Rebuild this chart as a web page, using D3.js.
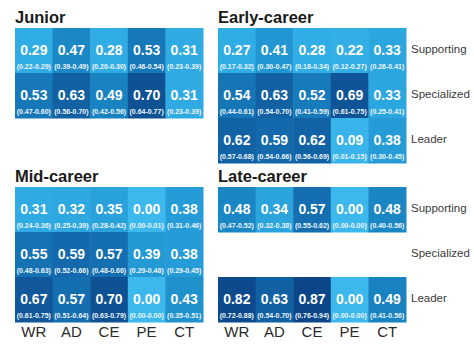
<!DOCTYPE html>
<html>
<head>
<meta charset="utf-8">
<script src="https://cdn.jsdelivr.net/npm/d3@7"></script>
<style>
  body { margin: 0; background: #fff; }
  svg { font-family: "Liberation Sans", Arial, sans-serif; }
</style>
</head>
<body>
<div class="container"></div>
<script>
// chart size
const width = 474;
const height = 351;

// categories
const columns = ["WR", "AD", "CE", "PE", "CT"];
const roles = ["Supporting", "Specialized", "Leader"];
const stages = ["Junior", "Early-career", "Mid-career", "Late-career"];

// values per stage, one row per role (null = role missing)
const juniorVals = [[0.29, 0.47, 0.28, 0.53, 0.31], [0.53, 0.63, 0.49, 0.70, 0.31], null];
const juniorCI = [
  ["0.22-0.29", "0.39-0.49", "0.20-0.30", "0.46-0.54", "0.23-0.39"],
  ["0.47-0.60", "0.56-0.70", "0.42-0.56", "0.64-0.77", "0.23-0.39"], null];
const earlyVals = [[0.27, 0.41, 0.28, 0.22, 0.33], [0.54, 0.63, 0.52, 0.69, 0.33], [0.62, 0.59, 0.62, 0.09, 0.38]];
const earlyCI = [
  ["0.17-0.32", "0.30-0.47", "0.18-0.34", "0.12-0.27", "0.26-0.41"],
  ["0.44-0.61", "0.54-0.70", "0.41-0.59", "0.61-0.75", "0.25-0.41"],
  ["0.57-0.68", "0.54-0.66", "0.56-0.69", "0.01-0.15", "0.30-0.45"]];
const midVals = [[0.31, 0.32, 0.35, 0.00, 0.38], [0.55, 0.59, 0.57, 0.39, 0.38], [0.67, 0.57, 0.70, 0.00, 0.43]];
const midCI = [
  ["0.24-0.36", "0.25-0.39", "0.28-0.42", "0.00-0.01", "0.31-0.46"],
  ["0.48-0.63", "0.52-0.66", "0.48-0.66", "0.29-0.48", "0.29-0.45"],
  ["0.61-0.75", "0.51-0.64", "0.63-0.79", "0.00-0.00", "0.35-0.51"]];
const lateVals = [[0.48, 0.34, 0.57, 0.00, 0.48], null, [0.82, 0.63, 0.87, 0.00, 0.49]];
const lateCI = [
  ["0.47-0.52", "0.32-0.38", "0.55-0.62", "0.00-0.00", "0.40-0.56"], null,
  ["0.72-0.88", "0.54-0.70", "0.76-0.94", "0.00-0.00", "0.41-0.56"]];

const panels = [
  { name: stages[0], vals: juniorVals, ci: juniorCI, x: 15, y: 28, axis: false, labels: false },
  { name: stages[1], vals: earlyVals, ci: earlyCI, x: 218, y: 28, axis: false, labels: true },
  { name: stages[2], vals: midVals, ci: midCI, x: 15, y: 187, axis: true, labels: false },
  { name: stages[3], vals: lateVals, ci: lateCI, x: 218, y: 187, axis: true, labels: true }
];

const svg = d3.select(".container")
  .append("svg")
  .attr("width", width)
  .attr("height", height);

// colour by value
const color = d3.scaleLinear()
  .domain([0, 0.3, 0.45, 0.55, 0.7, 0.87])
  .range(["#3cb8ec", "#30ace4", "#1c8ecb", "#1572b3", "#0f5294", "#0c4688"])
  .clamp(true);

const xScale = d3.scaleBand().domain(d3.range(columns.length)).range([0, 188]);
const yScale = d3.scaleBand().domain(d3.range(roles.length)).range([0, 135]);

panels.forEach(p => {
  const g = svg.append("g").attr("transform", `translate(${p.x},${p.y})`);

  g.append("text")
    .attr("x", 0)
    .attr("y", -5)
    .attr("font-size", "16.5px")
    .attr("font-weight", "bold")
    .attr("fill", "#1a1a1a")
    .text(p.name);

  p.vals.forEach((row, r) => {
    if (!row) return;
    row.forEach((v, c) => {
      const cx = xScale(c), cy = yScale(r);
      g.append("rect")
        .attr("x", cx).attr("y", cy)
        .attr("width", xScale.bandwidth() + 0.5)
        .attr("height", yScale.bandwidth() + 0.5)
        .attr("fill", color(v));
      g.append("text")
        .attr("x", cx + xScale.bandwidth() / 2)
        .attr("y", cy + 27)
        .attr("text-anchor", "middle")
        .attr("font-size", "14px")
        .attr("font-weight", "bold")
        .attr("fill", "#fff")
        .text(v.toFixed(2));
      g.append("text")
        .attr("x", cx + xScale.bandwidth() / 2)
        .attr("y", cy + 41)
        .attr("text-anchor", "middle")
        .attr("font-size", "7px")
        .attr("font-weight", "bold")
        .attr("fill", "#eef6fc")
        .text("(" + p.ci[r][c] + ")");
    });
  });

  if (p.labels) {
    roles.forEach((role, r) => {
      g.append("text")
        .attr("x", 193)
        .attr("y", yScale(r) + yScale.bandwidth() / 2 + 2)
        .attr("font-size", "11.5px")
        .attr("fill", "#3a3a3a")
        .text(role);
    });
  }

  if (p.axis) {
    const ax = g.append("g")
      .attr("transform", `translate(0,${yScale.range()[1]})`)
      .call(d3.axisBottom(xScale).tickSize(0).tickPadding(4).tickFormat(i => columns[i]));
    ax.select(".domain").remove();
    ax.selectAll("text")
      .attr("font-size", "15px")
      .attr("fill", "#2a2a2a")
      .attr("font-family", "Liberation Sans, Arial, sans-serif");
  }
});
</script>
</body>
</html>
